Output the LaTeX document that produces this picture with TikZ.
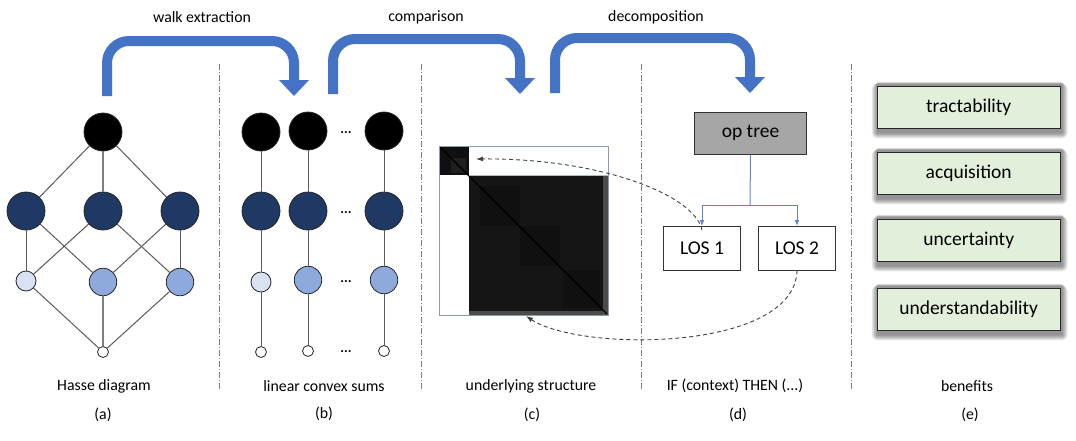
\documentclass[tikz,border=0pt]{standalone}
\usepackage{fontspec}
\setmainfont{Carlito}
\usetikzlibrary{arrows.meta}
\pgfdeclarelayer{background}
\pgfsetlayers{background,main}
\definecolor{navy}{HTML}{203864}
\definecolor{midblue}{HTML}{8EA9DB}
\definecolor{paleblue}{HTML}{D9E2F3}
\definecolor{arrowblue}{HTML}{4472C4}
\definecolor{treeblue}{HTML}{5B84D6}
\definecolor{boxgreen}{HTML}{E2EFDA}
\definecolor{opgray}{HTML}{A6A6A6}
\definecolor{edgegray}{HTML}{5A5A5A}
\definecolor{divgray}{HTML}{7F7F7F}
\definecolor{framegray}{HTML}{8C9BB3}
\definecolor{mdark}{HTML}{151515}
\definecolor{mdarker}{HTML}{101010}
\begin{document}
\begin{tikzpicture}[x=1pt,y=-1pt,
  dot/.style={circle,draw=black!85,line width=0.8pt,inner sep=0pt},
  topdot/.style={dot,fill=black,minimum size=38pt},
  navydot/.style={dot,fill=navy,minimum size=38pt},
  meddot/.style={dot,fill=midblue,minimum size=27.5pt},
  palesmall/.style={dot,fill=paleblue,minimum size=20pt},
  whitedot/.style={dot,fill=white,minimum size=11pt},
  hedge/.style={draw=edgegray,line width=1pt},
  hedgec/.style={draw=divgray,line width=2pt},
  divider/.style={draw=divgray,line width=0.8pt,dash pattern=on 6pt off 2pt on 1pt off 2pt},
  bigarrow/.style={draw=arrowblue,line width=10pt,rounded corners=22pt},
  lbl/.style={font=\fontsize{15.8}{18}\selectfont,inner sep=0pt},
  ellip/.style={font=\fontsize{14}{16}\selectfont\bfseries,inner sep=0pt},
  boxtxt/.style={font=\fontsize{19.5}{22}\selectfont},
  losbox/.style={draw=black!80,line width=0.8pt,fill=white,minimum width=77.5pt,minimum height=43.5pt,boxtxt},
  benefit/.style={draw=black!85,line width=0.9pt,fill=boxgreen,minimum width=183pt,minimum height=42pt,boxtxt},
  dasharrow/.style={draw=black!75,line width=0.9pt,dash pattern=on 4pt off 3pt,-{Latex[length=7pt,width=5pt]}},
  treearrow/.style={draw=treeblue,line width=1pt,-{Latex[length=6pt,width=4.5pt]}}
]
\useasboundingbox (0,0) rectangle (1076,440);

% dividers
\foreach \xx/\nm in {219/d1,421/d2,641/d3,851/d4}{
  \coordinate (\nm t) at (\xx,64);
  \coordinate (\nm b) at (\xx,390);
  \draw[divider] (\nm t) -- (\nm b);
}

% blue top arrows
\coordinate (wa1) at (107,96); \coordinate (wa2) at (107,41); \coordinate (wa3) at (294,41); \coordinate (wa4) at (294,81);
\draw[bigarrow] (wa1) -- (wa2) -- (wa3) -- (wa4);
\fill[arrowblue] (279,80) -- (309,80) -- (294,96) -- cycle;
\coordinate (ca1) at (333,94); \coordinate (ca2) at (333,39); \coordinate (ca3) at (520,39); \coordinate (ca4) at (520,79);
\draw[bigarrow] (ca1) -- (ca2) -- (ca3) -- (ca4);
\fill[arrowblue] (505,78) -- (535,78) -- (520,94) -- cycle;
\coordinate (da1) at (555,93); \coordinate (da2) at (555,38); \coordinate (da3) at (750,38); \coordinate (da4) at (750,78);
\draw[bigarrow] (da1) -- (da2) -- (da3) -- (da4);
\fill[arrowblue] (735,77) -- (765,77) -- (750,93) -- cycle;
\node[lbl] (lwalk) at (202,17) {walk extraction};
\node[lbl] (lcomp) at (426,17) {comparison};
\node[lbl] (ldec) at (656,17) {decomposition};

% Hasse diagram
\node[topdot] (ht) at (103,132) {};
\node[navydot] (hm1) at (26,211) {};
\node[navydot] (hm2) at (103,211) {};
\node[navydot] (hm3) at (180,211) {};
\node[palesmall] (hl1) at (26,281) {};
\node[meddot] (hl2) at (103,282) {};
\node[meddot] (hl3) at (180,282) {};
\node[whitedot] (hb) at (103,352) {};
\draw[hedge] (ht) -- (hm1);
\draw[hedge] (ht) -- (hm3);
\draw[hedgec] (ht) -- (hm2);
\draw[hedge] (hm1) -- (hl1);
\draw[hedge] (hm1) -- (hl2);
\draw[hedge] (hm2) -- (hl1);
\draw[hedge] (hm2) -- (hl3);
\draw[hedge] (hm3) -- (hl2);
\draw[hedge] (hm3) -- (hl3);
\draw[hedge] (hl1) -- (hb);
\draw[hedgec] (hl2) -- (hb);
\draw[hedge] (hl3) -- (hb);

% linear convex sums
\node[topdot] (a1) at (261,132) {};
\node[navydot] (a2) at (261,211) {};
\node[palesmall] (a3) at (261,282) {};
\node[whitedot] (a4) at (261,352) {};
\node[topdot] (b1) at (308,131) {};
\node[navydot] (b2) at (308,211) {};
\node[meddot] (b3) at (308,280) {};
\node[whitedot] (b4) at (308,351) {};
\node[topdot] (c1) at (384,131) {};
\node[navydot] (c2) at (384,211) {};
\node[meddot] (c3) at (384,280) {};
\node[whitedot] (c4) at (384,351) {};
\foreach \cc in {a,b,c}{
  \draw[hedge] (\cc1) -- (\cc2);
  \draw[hedge] (\cc2) -- (\cc3);
  \draw[hedge] (\cc3) -- (\cc4);
}
\node[ellip] (e1) at (346,133) {...};
\node[ellip] (e2) at (346,213) {...};
\node[ellip] (e3) at (346,282) {...};
\node[ellip] (e4) at (346,352) {...};

% matrix
\fill[white] (439,146) rectangle (608,315);
\fill[mdarker] (439,146) rectangle (469,175);
\fill[black!88] (451,158) rectangle (466,173);
\fill[mdark] (469,175) rectangle (608,315);
\fill[mdarker] (480,186) rectangle (520,226);
\fill[mdarker] (520,226) rectangle (560,266);
\fill[mdarker] (563,270) rectangle (600,308);
\fill[black!70] (603,175) rectangle (608,315);
\fill[black!70] (469,311) rectangle (608,315);
\draw[black,line width=1.2pt] (440,147) -- (607,314);
\draw[framegray,line width=0.9pt] (439,146) rectangle (608,315);
\draw[framegray!70,line width=0.6pt] (469,175) -- (608,175);
\coordinate (mtop) at (476,159);
\coordinate (mbot) at (526,316);

% op tree
\node[draw=black!80,line width=0.9pt,fill=opgray,minimum width=112.5pt,minimum height=42pt,boxtxt] (op) at (750.5,133.3) {op tree};
\node[losbox] (los1) at (702,248.3) {LOS 1};
\node[losbox] (los2) at (797,248.3) {LOS 2};
\coordinate (split) at (750,205);
\draw[draw=treeblue,line width=1pt] (op.south) -- (split);
\draw[treearrow] (split) -| (los1.north);
\draw[treearrow] (split) -| (los2.north);

% dashed arrows
\draw[dasharrow] ([yshift=-4pt]los1.north) .. controls (695,195) and (600,158) .. (mtop);
\draw[dasharrow] (los2.south) .. controls (795,352) and (580,352) .. (mbot);

% benefits
\node[benefit] (t1) at (968.7,107) {tractability};
\node[benefit] (t2) at (968.7,173) {acquisition};
\node[benefit] (t3) at (968.7,240) {uncertainty};
\node[benefit] (t4) at (968.7,309) {understandability};
\begin{pgfonlayer}{background}
\foreach \bx in {t1,t2,t3,t4}{
  \foreach \s in {1,2,3,4,5,6}{
    \fill[black,opacity=0.085,rounded corners=\s pt]
      ([xshift=1pt-\s pt,yshift=4pt-0.4*\s pt]\bx.north west) rectangle ([xshift=1pt+\s pt,yshift=-4pt-\s pt]\bx.south east);
  }
}
\end{pgfonlayer}

% bottom labels
\node[lbl] (la) at (104,386) {Hasse diagram};
\node[lbl] (lb) at (324,386) {linear convex sums};
\node[lbl] (lc) at (531,386) {underlying structure};
\node[lbl] (ld) at (735,386) {IF (context) THEN (...)};
\node[lbl] (le) at (967,386) {benefits};
\node[lbl] (pa) at (103,415) {(a)};
\node[lbl] (pb) at (324,414) {(b)};
\node[lbl] (pc) at (532,415) {(c)};
\node[lbl] (pd) at (738,415) {(d)};
\node[lbl] (pe) at (970,415) {(e)};
\end{tikzpicture}
\end{document}
